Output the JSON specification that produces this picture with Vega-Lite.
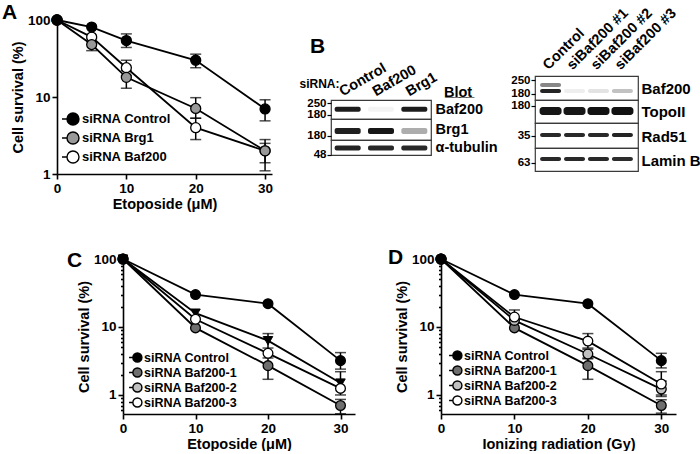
{
 "$schema": "https://vega.github.io/schema/vega-lite/v6.json",
 "padding": {"left": 2, "top": 2, "right": 0, "bottom": 0},
 "autosize": {"type": "pad"},
 "background": "white",
 "datasets": {
  "surv": [
   {"panel":"A","series":"siRNA Baf200","x":0,"y":100},
   {"panel":"A","series":"siRNA Baf200","x":5,"y":60},
   {"panel":"A","series":"siRNA Baf200","x":10,"y":24,"lo":19,"hi":30},
   {"panel":"A","series":"siRNA Baf200","x":20,"y":4,"lo":2.8,"hi":5.3},
   {"panel":"A","series":"siRNA Baf200","x":30,"y":2,"lo":1.1,"hi":2.5},
   {"panel":"A","series":"siRNA Brg1","x":0,"y":100},
   {"panel":"A","series":"siRNA Brg1","x":5,"y":48,"lo":40,"hi":57},
   {"panel":"A","series":"siRNA Brg1","x":10,"y":18,"lo":13,"hi":22},
   {"panel":"A","series":"siRNA Brg1","x":20,"y":7.1,"lo":5.3,"hi":9.8},
   {"panel":"A","series":"siRNA Brg1","x":30,"y":2,"lo":1.4,"hi":2.8},
   {"panel":"A","series":"siRNA Control","x":0,"y":100},
   {"panel":"A","series":"siRNA Control","x":5,"y":81},
   {"panel":"A","series":"siRNA Control","x":10,"y":54,"lo":44,"hi":66},
   {"panel":"A","series":"siRNA Control","x":20,"y":30,"lo":24,"hi":36},
   {"panel":"A","series":"siRNA Control","x":30,"y":7,"lo":4.9,"hi":9.2},
   {"panel":"C","series":"siRNA Baf200-1","x":0,"y":100},
   {"panel":"C","series":"siRNA Baf200-1","x":10,"y":9.7},
   {"panel":"C","series":"siRNA Baf200-1","x":20,"y":2.7,"lo":1.7,"hi":3.5},
   {"panel":"C","series":"siRNA Baf200-1","x":30,"y":0.7,"lo":0.53,"hi":0.86},
   {"panel":"C","series":"siRNA Baf200-3","x":0,"y":100},
   {"panel":"C","series":"siRNA Baf200-3","x":10,"y":13},
   {"panel":"C","series":"siRNA Baf200-3","x":20,"y":4.1},
   {"panel":"C","series":"siRNA Baf200-3","x":30,"y":1.25},
   {"panel":"C","series":"siRNA Baf200-2","x":0,"y":100},
   {"panel":"C","series":"siRNA Baf200-2","x":10,"y":16},
   {"panel":"C","series":"siRNA Baf200-2","x":20,"y":6.3,"lo":4.9,"hi":8.0},
   {"panel":"C","series":"siRNA Baf200-2","x":30,"y":1.5,"lo":1.0,"hi":2.2},
   {"panel":"C","series":"siRNA Control","x":0,"y":100},
   {"panel":"C","series":"siRNA Control","x":10,"y":30},
   {"panel":"C","series":"siRNA Control","x":20,"y":22},
   {"panel":"C","series":"siRNA Control","x":30,"y":3.2,"lo":2.4,"hi":4.2},
   {"panel":"D","series":"siRNA Baf200-1","x":0,"y":100},
   {"panel":"D","series":"siRNA Baf200-1","x":10,"y":9.7},
   {"panel":"D","series":"siRNA Baf200-1","x":20,"y":2.7,"lo":1.7,"hi":3.5},
   {"panel":"D","series":"siRNA Baf200-1","x":30,"y":0.7,"lo":0.54,"hi":0.85},
   {"panel":"D","series":"siRNA Baf200-2","x":0,"y":100},
   {"panel":"D","series":"siRNA Baf200-2","x":10,"y":12.5},
   {"panel":"D","series":"siRNA Baf200-2","x":20,"y":4.0,"lo":3.4,"hi":4.7},
   {"panel":"D","series":"siRNA Baf200-2","x":30,"y":1.22,"lo":0.95,"hi":1.6},
   {"panel":"D","series":"siRNA Baf200-3","x":0,"y":100},
   {"panel":"D","series":"siRNA Baf200-3","x":10,"y":14,"lo":11.5,"hi":17.8},
   {"panel":"D","series":"siRNA Baf200-3","x":20,"y":6.2,"lo":4.9,"hi":8.0},
   {"panel":"D","series":"siRNA Baf200-3","x":30,"y":1.45,"lo":1.0,"hi":2.2},
   {"panel":"D","series":"siRNA Control","x":0,"y":100},
   {"panel":"D","series":"siRNA Control","x":10,"y":30},
   {"panel":"D","series":"siRNA Control","x":20,"y":22},
   {"panel":"D","series":"siRNA Control","x":30,"y":3.2,"lo":2.5,"hi":4.1}
  ],
  "blot": [
   {"blot":"B1","strip":"Baf200","lane":"Control","mw":210,"v":0.92},
   {"blot":"B1","strip":"Baf200","lane":"Baf200","mw":210,"v":0.04},
   {"blot":"B1","strip":"Baf200","lane":"Brg1","mw":210,"v":0.92},
   {"blot":"B1","strip":"Brg1","lane":"Control","mw":206,"v":0.9},
   {"blot":"B1","strip":"Brg1","lane":"Baf200","mw":206,"v":0.95},
   {"blot":"B1","strip":"Brg1","lane":"Brg1","mw":206,"v":0.3},
   {"blot":"B1","strip":"tub","lane":"Control","mw":58.5,"v":0.88},
   {"blot":"B1","strip":"tub","lane":"Baf200","mw":58.5,"v":0.86},
   {"blot":"B1","strip":"tub","lane":"Brg1","mw":58.5,"v":0.86},
   {"blot":"B2","strip":"Baf200","lane":"Control","mw":222,"v":0.45},
   {"blot":"B2","strip":"Baf200","lane":"Control","mw":193,"v":0.88},
   {"blot":"B2","strip":"Baf200","lane":"siBaf200 #1","mw":193,"v":0.06},
   {"blot":"B2","strip":"Baf200","lane":"siBaf200 #2","mw":193,"v":0.1},
   {"blot":"B2","strip":"Baf200","lane":"siBaf200 #3","mw":193,"v":0.22},
   {"blot":"B2","strip":"TopoII","lane":"Control","mw":160,"v":0.95},
   {"blot":"B2","strip":"TopoII","lane":"siBaf200 #1","mw":160,"v":0.95},
   {"blot":"B2","strip":"TopoII","lane":"siBaf200 #2","mw":160,"v":0.97},
   {"blot":"B2","strip":"TopoII","lane":"siBaf200 #3","mw":160,"v":0.97},
   {"blot":"B2","strip":"Rad51","lane":"Control","mw":35.8,"v":0.86},
   {"blot":"B2","strip":"Rad51","lane":"siBaf200 #1","mw":35.8,"v":0.86},
   {"blot":"B2","strip":"Rad51","lane":"siBaf200 #2","mw":35.8,"v":0.86},
   {"blot":"B2","strip":"Rad51","lane":"siBaf200 #3","mw":35.8,"v":0.88},
   {"blot":"B2","strip":"LaminB","lane":"Control","mw":69,"v":0.86},
   {"blot":"B2","strip":"LaminB","lane":"siBaf200 #1","mw":69,"v":0.86},
   {"blot":"B2","strip":"LaminB","lane":"siBaf200 #2","mw":69,"v":0.86},
   {"blot":"B2","strip":"LaminB","lane":"siBaf200 #3","mw":69,"v":0.84}
  ]
 },
 "spacing": 35,
 "resolve": {"scale": {"x": "independent", "y": "independent", "fill": "independent", "color": "independent"}, "legend": {"fill": "independent", "color": "independent"}},
 "vconcat": [
  {
   "spacing": 0,
   "resolve": {"scale": {"x": "independent", "y": "independent", "fill": "independent", "color": "independent"}, "legend": {"fill": "independent", "color": "independent"}},
   "hconcat": [
    {
     "width": 215, "height": 154,
     "title": {"text": "A", "anchor": "start", "frame": "group", "fontSize": 21, "offset": 1, "dx": -55, "dy": 29, "baseline": "alphabetic"},
     "data": {"name": "surv"},
     "transform": [{"filter": "datum.panel == 'A'"}],
     "encoding": {
      "x": {"field": "x", "type": "quantitative", "scale": {"domain": [0, 31], "nice": false},
            "axis": {"values": [0, 10, 20, 30], "title": "Etoposide (μM)", "labelFontSize": 13.5, "titleFontSize": 14.5, "tickSize": 5, "labelPadding": 2, "titlePadding": 3, "labelFlush": false}}
     },
     "layer": [
      {"mark": {"type": "line", "color": "black", "strokeWidth": 1.8},
       "encoding": {"y": {"field": "y", "type": "quantitative", "title": "Cell survival (%)", "scale": {"type": "log", "domain": [1, 100], "nice": false},
                          "axis": {"values": [1, 10, 100], "format": "d", "labelFontSize": 13.5, "titleFontSize": 14.5, "tickSize": 5, "labelPadding": 2, "titlePadding": 2}},
                    "detail": {"field": "series"}, "order": {"field": "x"}}},
      {"transform": [{"filter": "isValid(datum.lo)"}],
       "mark": {"type": "errorbar", "color": "black", "thickness": 1.5, "size": 11, "ticks": true},
       "encoding": {"y": {"field": "lo", "type": "quantitative", "title": "Cell survival (%)"}, "y2": {"field": "hi"}}},
      {"mark": {"type": "point", "filled": true, "size": 100, "stroke": "black", "strokeWidth": 1.3, "opacity": 1},
       "encoding": {"y": {"field": "y", "type": "quantitative", "title": "Cell survival (%)"},
                    "fill": {"field": "series", "type": "nominal", "sort": null,
                             "scale": {"domain": ["siRNA Control", "siRNA Brg1", "siRNA Baf200"], "range": ["#000000", "#999999", "#ffffff"]},
                             "legend": {"orient": "none", "legendX": 4, "legendY": 89.5, "title": null, "padding": 0,
                                        "symbolType": "M-1,0L-0.41,0M1,0A0.706,0.706,0,1,1,-0.412,0A0.706,0.706,0,1,1,1,0Z",
                                        "symbolSize": 289, "symbolStrokeColor": "#000000", "symbolStrokeWidth": 1.4,
                                        "labelFontSize": 13, "labelFontWeight": "bold", "labelColor": "#000000", "labelOffset": 2, "rowPadding": 0}}}}
     ]
    },
    {
     "width": 25, "height": 150,
     "data": {"values": []},
     "mark": "point"
    },
    {
     "spacing": 0,
     "bounds": "flush",
     "resolve": {"scale": {"x": "independent", "y": "independent", "color": "independent"}, "legend": {"color": "independent"}},
     "vconcat": [
      {"width": 100, "height": 40,
       "title": {"text": "B", "anchor": "start", "frame": "group", "fontSize": 21, "offset": 0, "dx": -21, "dy": 54, "baseline": "alphabetic"},
       "data": {"values": []}, "mark": "point"},
      {"width": 100, "height": 40,
       "title": {"text": "B̲l̲o̲t̲", "anchor": "start", "frame": "group", "fontSize": 14.5, "offset": 0, "dx": 113, "dy": 51, "baseline": "alphabetic"},
       "data": {"values": []}, "mark": "point"},
      {
       "width": 100, "height": 19,
       "view": {"stroke": "#3a3a3a", "strokeWidth": 1.2},
       "data": {"name": "blot"},
       "transform": [{"filter": "datum.blot == 'B1' && datum.strip == 'Baf200'"}],
       "mark": {"type": "tick", "thickness": 5, "size": 26, "opacity": 1, "cornerRadius": 2},
       "encoding": {
        "x": {"field": "lane", "type": "nominal", "sort": ["Control", "Baf200", "Brg1"], "scale": {"domain": ["Control", "Baf200", "Brg1"], "paddingInner": 0.2, "paddingOuter": 0.1},
              "axis": {"orient": "top", "labelAngle": -30, "labelAlign": "left", "labelBaseline": "alphabetic", "labelFontSize": 14.5, "ticks": false, "domain": false, "labelPadding": 4, "labelOffset": -5,
                       "title": "siRNA:", "titleX": -32, "titleY": -13, "titleAngle": 0, "titleAlign": "left", "titleBaseline": "alphabetic", "titleFontSize": 12}},
        "y": {"field": "mw", "type": "quantitative", "scale": {"type": "log", "domain": [161, 272], "nice": false},
              "axis": {"values": [180, 250], "format": "d", "tickSize": 4, "tickWidth": 1.2, "domain": false, "labelFontSize": 11.5, "labelPadding": 1, "labelOverlap": false, "labelFlush": false,
                       "title": "Baf200", "titleX": 104, "titleY": 9.5, "titleAngle": 0, "titleAlign": "left", "titleBaseline": "middle", "titleFontSize": 14.5}},
        "color": {"field": "v", "type": "quantitative", "scale": {"domain": [0, 1], "range": ["#ffffff", "#0a0a0a"]}, "legend": null}
       }
      },
      {
       "width": 100, "height": 21,
       "view": {"stroke": "#3a3a3a", "strokeWidth": 1.2},
       "data": {"name": "blot"},
       "transform": [{"filter": "datum.blot == 'B1' && datum.strip == 'Brg1'"}],
       "mark": {"type": "tick", "thickness": 6, "size": 26, "opacity": 1, "cornerRadius": 2},
       "encoding": {
        "x": {"field": "lane", "type": "nominal", "sort": ["Control", "Baf200", "Brg1"], "scale": {"domain": ["Control", "Baf200", "Brg1"], "paddingInner": 0.2, "paddingOuter": 0.1}, "axis": null},
        "y": {"field": "mw", "type": "quantitative", "scale": {"type": "log", "domain": [161, 286], "nice": false},
              "axis": {"values": [180], "format": "d", "tickSize": 4, "tickWidth": 1.2, "domain": false, "labelFontSize": 11.5, "labelPadding": 1, "labelOverlap": false, "labelFlush": false,
                       "title": "Brg1", "titleX": 104, "titleY": 10.5, "titleAngle": 0, "titleAlign": "left", "titleBaseline": "middle", "titleFontSize": 14.5}},
        "color": {"field": "v", "type": "quantitative", "scale": {"domain": [0, 1], "range": ["#ffffff", "#0a0a0a"]}, "legend": null}
       }
      },
      {
       "width": 100, "height": 15,
       "view": {"stroke": "#3a3a3a", "strokeWidth": 1.2},
       "data": {"name": "blot"},
       "transform": [{"filter": "datum.blot == 'B1' && datum.strip == 'tub'"}],
       "mark": {"type": "tick", "thickness": 5, "size": 26, "opacity": 1, "cornerRadius": 2},
       "encoding": {
        "x": {"field": "lane", "type": "nominal", "sort": ["Control", "Baf200", "Brg1"], "scale": {"domain": ["Control", "Baf200", "Brg1"], "paddingInner": 0.2, "paddingOuter": 0.1}, "axis": null},
        "y": {"field": "mw", "type": "quantitative", "scale": {"type": "log", "domain": [47.5, 74], "nice": false},
              "axis": {"values": [48], "format": "d", "tickSize": 4, "tickWidth": 1.2, "domain": false, "labelFontSize": 11.5, "labelPadding": 1, "labelOverlap": false, "labelFlush": false,
                       "title": "α-tubulin", "titleX": 104, "titleY": 7.5, "titleAngle": 0, "titleAlign": "left", "titleBaseline": "middle", "titleFontSize": 14.5}},
        "color": {"field": "v", "type": "quantitative", "scale": {"domain": [0, 1], "range": ["#ffffff", "#0a0a0a"]}, "legend": null}
       }
      }
     ]
    },
    {
     "width": 12, "height": 150,
     "data": {"values": []},
     "mark": "point"
    },
    {
     "spacing": 0,
     "bounds": "flush",
     "resolve": {"scale": {"x": "independent", "y": "independent", "color": "independent"}, "legend": {"color": "independent"}},
     "vconcat": [
      {"width": 103, "height": 56, "data": {"values": []}, "mark": "point"},
      {
       "width": 103, "height": 24,
       "view": {"stroke": "#3a3a3a", "strokeWidth": 1.2},
       "data": {"name": "blot"},
       "transform": [{"filter": "datum.blot == 'B2' && datum.strip == 'Baf200'"}],
       "mark": {"type": "tick", "thickness": 4, "size": 21, "opacity": 1, "cornerRadius": 2},
       "encoding": {
        "x": {"field": "lane", "type": "nominal", "sort": ["Control", "siBaf200 #1", "siBaf200 #2", "siBaf200 #3"], "scale": {"domain": ["Control", "siBaf200 #1", "siBaf200 #2", "siBaf200 #3"], "paddingInner": 0.1, "paddingOuter": 0.2},
              "axis": {"orient": "top", "labelAngle": -45, "labelAlign": "left", "labelBaseline": "alphabetic", "labelFontSize": 14.5, "ticks": false, "domain": false, "labelPadding": 6, "labelOffset": -2, "title": null}},
        "y": {"field": "mw", "type": "quantitative", "scale": {"type": "log", "domain": [156, 275], "nice": false},
              "axis": {"values": [180, 250], "format": "d", "tickSize": 4, "tickWidth": 1.2, "domain": false, "labelFontSize": 11.5, "labelPadding": 1, "labelOverlap": false, "labelFlush": false,
                       "title": "Baf200", "titleX": 106, "titleY": 12, "titleAngle": 0, "titleAlign": "left", "titleBaseline": "middle", "titleFontSize": 15}},
        "color": {"field": "v", "type": "quantitative", "scale": {"domain": [0, 1], "range": ["#ffffff", "#0a0a0a"]}, "legend": null}
       }
      },
      {
       "width": 103, "height": 23,
       "view": {"stroke": "#3a3a3a", "strokeWidth": 1.2},
       "data": {"name": "blot"},
       "transform": [{"filter": "datum.blot == 'B2' && datum.strip == 'TopoII'"}],
       "mark": {"type": "tick", "thickness": 8, "size": 22, "opacity": 1, "cornerRadius": 3},
       "encoding": {
        "x": {"field": "lane", "type": "nominal", "sort": ["Control", "siBaf200 #1", "siBaf200 #2", "siBaf200 #3"], "scale": {"domain": ["Control", "siBaf200 #1", "siBaf200 #2", "siBaf200 #3"], "paddingInner": 0.1, "paddingOuter": 0.2}, "axis": null},
        "y": {"field": "mw", "type": "quantitative", "scale": {"type": "log", "domain": [120.5, 207], "nice": false},
              "axis": {"values": [180], "format": "d", "tickSize": 4, "tickWidth": 1.2, "domain": false, "labelFontSize": 11.5, "labelPadding": 1, "labelOverlap": false, "labelFlush": false,
                       "title": "TopoII", "titleX": 106, "titleY": 11.5, "titleAngle": 0, "titleAlign": "left", "titleBaseline": "middle", "titleFontSize": 15}},
        "color": {"field": "v", "type": "quantitative", "scale": {"domain": [0, 1], "range": ["#ffffff", "#0a0a0a"]}, "legend": null}
       }
      },
      {
       "width": 103, "height": 25,
       "view": {"stroke": "#3a3a3a", "strokeWidth": 1.2},
       "data": {"name": "blot"},
       "transform": [{"filter": "datum.blot == 'B2' && datum.strip == 'Rad51'"}],
       "mark": {"type": "tick", "thickness": 4, "size": 21, "opacity": 1, "cornerRadius": 2},
       "encoding": {
        "x": {"field": "lane", "type": "nominal", "sort": ["Control", "siBaf200 #1", "siBaf200 #2", "siBaf200 #3"], "scale": {"domain": ["Control", "siBaf200 #1", "siBaf200 #2", "siBaf200 #3"], "paddingInner": 0.1, "paddingOuter": 0.2}, "axis": null},
        "y": {"field": "mw", "type": "quantitative", "scale": {"type": "log", "domain": [26.4, 47.5], "nice": false},
              "axis": {"values": [35], "format": "d", "tickSize": 4, "tickWidth": 1.2, "domain": false, "labelFontSize": 11.5, "labelPadding": 1, "labelOverlap": false, "labelFlush": false,
                       "title": "Rad51", "titleX": 106, "titleY": 13, "titleAngle": 0, "titleAlign": "left", "titleBaseline": "middle", "titleFontSize": 15}},
        "color": {"field": "v", "type": "quantitative", "scale": {"domain": [0, 1], "range": ["#ffffff", "#0a0a0a"]}, "legend": null}
       }
      },
      {
       "width": 103, "height": 23,
       "view": {"stroke": "#3a3a3a", "strokeWidth": 1.2},
       "data": {"name": "blot"},
       "transform": [{"filter": "datum.blot == 'B2' && datum.strip == 'LaminB'"}],
       "mark": {"type": "tick", "thickness": 4, "size": 21, "opacity": 1, "cornerRadius": 2},
       "encoding": {
        "x": {"field": "lane", "type": "nominal", "sort": ["Control", "siBaf200 #1", "siBaf200 #2", "siBaf200 #3"], "scale": {"domain": ["Control", "siBaf200 #1", "siBaf200 #2", "siBaf200 #3"], "paddingInner": 0.1, "paddingOuter": 0.2}, "axis": null},
        "y": {"field": "mw", "type": "quantitative", "scale": {"type": "log", "domain": [52.1, 89.5], "nice": false},
              "axis": {"values": [63], "format": "d", "tickSize": 4, "tickWidth": 1.2, "domain": false, "labelFontSize": 11.5, "labelPadding": 1, "labelOverlap": false, "labelFlush": false,
                       "title": "Lamin B", "titleX": 106, "titleY": 12, "titleAngle": 0, "titleAlign": "left", "titleBaseline": "middle", "titleFontSize": 15}},
        "color": {"field": "v", "type": "quantitative", "scale": {"domain": [0, 1], "range": ["#ffffff", "#0a0a0a"]}, "legend": null}
       }
      }
     ]
    }
   ]
  },
  {
   "spacing": 0,
   "resolve": {"scale": {"x": "independent", "y": "independent", "fill": "independent", "color": "independent"}, "legend": {"fill": "independent", "color": "independent"}},
   "hconcat": [
    {
     "width": 10, "height": 150,
     "data": {"values": []},
     "mark": "point"
    },
    {
     "width": 232, "height": 155,
     "title": {"text": "C", "anchor": "start", "frame": "group", "fontSize": 21, "offset": 0, "dx": -56, "dy": 36, "baseline": "alphabetic"},
     "data": {"name": "surv"},
     "transform": [{"filter": "datum.panel == 'C'"}],
     "encoding": {
      "x": {"field": "x", "type": "quantitative", "scale": {"domain": [0, 32], "nice": false},
            "axis": {"values": [0, 10, 20, 30], "title": "Etoposide (μM)", "labelFontSize": 13.5, "titleFontSize": 14.5, "tickSize": 5, "labelPadding": 2, "titlePadding": 3, "labelFlush": false}}
     },
     "layer": [
      {"mark": {"type": "line", "color": "black", "strokeWidth": 1.8},
       "encoding": {"y": {"field": "y", "type": "quantitative", "title": "Cell survival (%)", "scale": {"type": "log", "domain": [0.525, 100], "nice": false},
                          "axis": {"values": [0.6, 0.7, 0.8, 0.9, 1, 2, 3, 4, 5, 6, 7, 8, 9, 10, 20, 30, 40, 50, 60, 70, 80, 90, 100],
                                   "labelExpr": "datum.value == 1 || datum.value == 10 || datum.value == 100 ? datum.value + '' : ''",
                                   "tickSize": {"condition": {"test": "datum.value == 1 || datum.value == 10 || datum.value == 100", "value": 5}, "value": 2.5},
                                   "labelFontSize": 13.5, "titleFontSize": 14.5, "labelPadding": 2, "titlePadding": 2, "labelOverlap": false}},
                    "detail": {"field": "series"}, "order": {"field": "x"}}},
      {"transform": [{"filter": "isValid(datum.lo)"}],
       "mark": {"type": "errorbar", "color": "black", "thickness": 1.5, "size": 11, "ticks": true},
       "encoding": {"y": {"field": "lo", "type": "quantitative", "title": "Cell survival (%)"}, "y2": {"field": "hi"}}},
      {"transform": [{"filter": "datum.series == 'siRNA Baf200-2'"}],
       "mark": {"type": "point", "shape": "triangle-down", "filled": true, "fill": "black", "size": 90, "stroke": "black", "strokeWidth": 1, "opacity": 1},
       "encoding": {"y": {"field": "y", "type": "quantitative", "title": "Cell survival (%)"}}},
      {"transform": [{"filter": "datum.series != 'siRNA Baf200-2'"}],
       "mark": {"type": "point", "filled": true, "size": 95, "stroke": "black", "strokeWidth": 1.3, "opacity": 1},
       "encoding": {"y": {"field": "y", "type": "quantitative", "title": "Cell survival (%)"},
                    "fill": {"field": "series", "type": "nominal", "sort": null,
                             "scale": {"domain": ["siRNA Control", "siRNA Baf200-1", "siRNA Baf200-2", "siRNA Baf200-3"], "range": ["#000000", "#6e6e6e", "#c0c0c0", "#ffffff"]},
                             "legend": {"orient": "none", "legendX": 5, "legendY": 91, "title": null, "padding": 0,
                                        "symbolType": "M-1,0L-0.41,0M1,0A0.706,0.706,0,1,1,-0.412,0A0.706,0.706,0,1,1,1,0Z",
                                        "symbolSize": 165, "symbolStrokeColor": "#000000", "symbolStrokeWidth": 1.4,
                                        "labelFontSize": 12.5, "labelFontWeight": "bold", "labelColor": "#000000", "labelOffset": 1, "rowPadding": 0}}}}
     ]
    },
    {
     "width": 33, "height": 150,
     "data": {"values": []},
     "mark": "point"
    },
    {
     "width": 235, "height": 155,
     "title": {"text": "D", "anchor": "start", "frame": "group", "fontSize": 21, "offset": 0, "dx": -53, "dy": 33, "baseline": "alphabetic"},
     "data": {"name": "surv"},
     "transform": [{"filter": "datum.panel == 'D'"}],
     "encoding": {
      "x": {"field": "x", "type": "quantitative", "scale": {"domain": [0, 32], "nice": false},
            "axis": {"values": [0, 10, 20, 30], "title": "Ionizing radiation (Gy)", "labelFontSize": 13.5, "titleFontSize": 14.5, "tickSize": 5, "labelPadding": 2, "titlePadding": 3, "labelFlush": false}}
     },
     "layer": [
      {"mark": {"type": "line", "color": "black", "strokeWidth": 1.8},
       "encoding": {"y": {"field": "y", "type": "quantitative", "title": "Cell survival (%)", "scale": {"type": "log", "domain": [0.525, 100], "nice": false},
                          "axis": {"values": [0.6, 0.7, 0.8, 0.9, 1, 2, 3, 4, 5, 6, 7, 8, 9, 10, 20, 30, 40, 50, 60, 70, 80, 90, 100],
                                   "labelExpr": "datum.value == 1 || datum.value == 10 || datum.value == 100 ? datum.value + '' : ''",
                                   "tickSize": {"condition": {"test": "datum.value == 1 || datum.value == 10 || datum.value == 100", "value": 5}, "value": 2.5},
                                   "labelFontSize": 13.5, "titleFontSize": 14.5, "labelPadding": 2, "titlePadding": 2, "labelOverlap": false}},
                    "detail": {"field": "series"}, "order": {"field": "x"}}},
      {"transform": [{"filter": "isValid(datum.lo)"}],
       "mark": {"type": "errorbar", "color": "black", "thickness": 1.5, "size": 11, "ticks": true},
       "encoding": {"y": {"field": "lo", "type": "quantitative", "title": "Cell survival (%)"}, "y2": {"field": "hi"}}},
      {"mark": {"type": "point", "filled": true, "size": 95, "stroke": "black", "strokeWidth": 1.3, "opacity": 1},
       "encoding": {"y": {"field": "y", "type": "quantitative", "title": "Cell survival (%)"},
                    "fill": {"field": "series", "type": "nominal", "sort": null,
                             "scale": {"domain": ["siRNA Control", "siRNA Baf200-1", "siRNA Baf200-2", "siRNA Baf200-3"], "range": ["#000000", "#6e6e6e", "#c0c0c0", "#ffffff"]},
                             "legend": {"orient": "none", "legendX": 7, "legendY": 89, "title": null, "padding": 0,
                                        "symbolType": "M-1,0L-0.41,0M1,0A0.706,0.706,0,1,1,-0.412,0A0.706,0.706,0,1,1,1,0Z",
                                        "symbolSize": 165, "symbolStrokeColor": "#000000", "symbolStrokeWidth": 1.4,
                                        "labelFontSize": 12.5, "labelFontWeight": "bold", "labelColor": "#000000", "labelOffset": 1, "rowPadding": 0}}}}
     ]
    }
   ]
  }
 ],
 "config": {
  "font": "Liberation Sans",
  "view": {"stroke": null},
  "axis": {"domainColor": "#000000", "domainWidth": 1.6, "tickColor": "#000000", "tickWidth": 1.6, "labelColor": "#000000", "titleColor": "#000000",
           "labelFontWeight": "bold", "titleFontWeight": "bold", "grid": false, "labelFont": "Liberation Sans", "titleFont": "Liberation Sans"},
  "title": {"font": "Liberation Sans", "fontWeight": "bold", "color": "#000000"},
  "legend": {"labelFont": "Liberation Sans"}
 }
}
